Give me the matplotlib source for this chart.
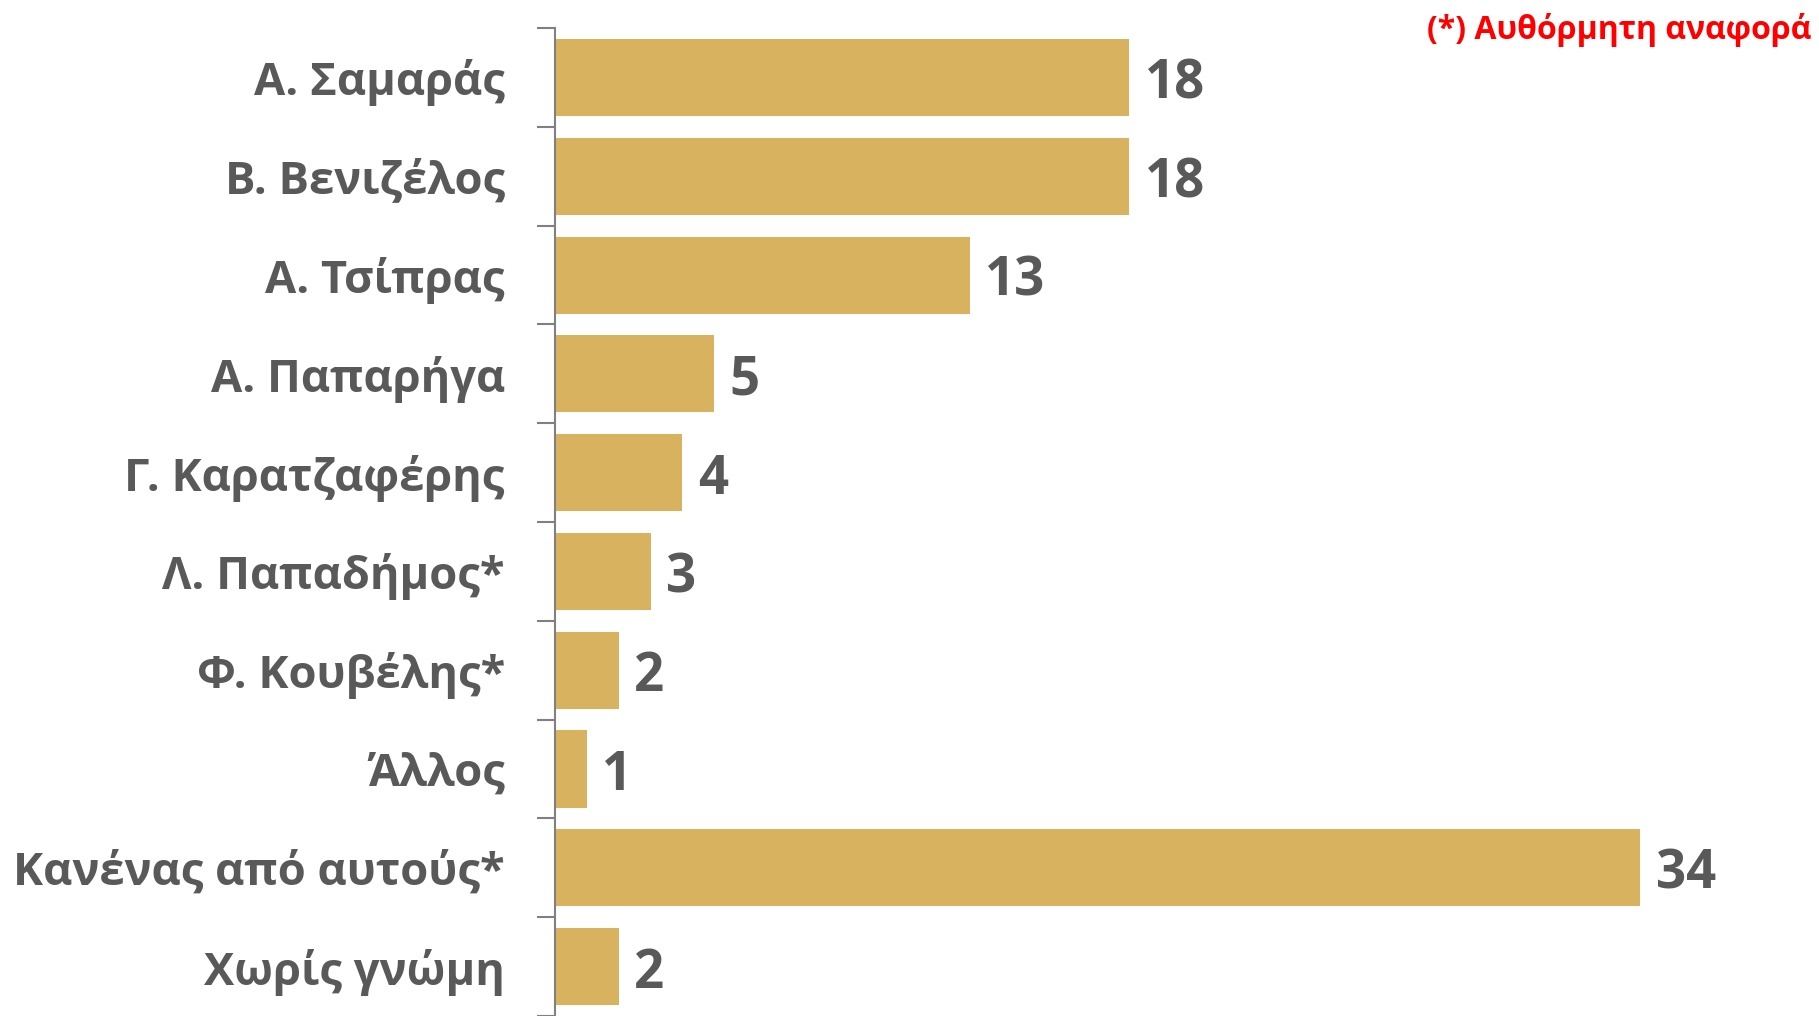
import numpy as np
import matplotlib.pyplot as plt

# valeurs
noms = ['Α. Σαμαράς', 'Β. Βενιζέλος', 'Α. Τσίπρας', 'Α. Παπαρήγα', 'Γ. Καρατζαφέρης',
        'Λ. Παπαδήμος*', 'Φ. Κουβέλης*', 'Άλλος', 'Κανένας από αυτούς*', 'Χωρίς γνώμη']
valeurs = [18, 18, 13, 5, 4, 3, 2, 1, 34, 2]
note = '(*) Αυθόρμητη αναφορά'

plt.rcParams['font.family'] = ['Open Sans', 'DejaVu Sans']
gris = '#595959'
couleur = '#D8B25E'

fig = plt.figure(figsize=(18.19, 10.16), dpi=100)
ax = fig.add_axes([0.305, 0.0, 0.695, 0.9724])

y = np.arange(len(noms))
ax.barh(y, valeurs, height=0.78, color=couleur)

for yi, v in zip(y, valeurs):
    ax.annotate(str(v), (v, yi), xytext=(11, -5), textcoords='offset points',
                ha='left', va='center', fontsize=38, fontweight='bold', color=gris)

ax.set_xlim(0, 39.6)
ax.set_ylim(len(noms) - 0.5, -0.5)

ax.set_yticks(y)
ax.set_yticklabels(noms, fontsize=32.6, fontweight='bold', color=gris)
ax.tick_params(axis='y', which='major', length=0, pad=36)
ax.set_yticks(np.arange(len(noms) + 1) - 0.5, minor=True)
ax.tick_params(axis='y', which='minor', length=13, width=1.5, color='#808080')
ax.set_xticks([])

for s in ['top', 'right', 'bottom']:
    ax.spines[s].set_visible(False)
ax.spines['left'].set_color('#808080')
ax.spines['left'].set_linewidth(1.5)

fig.text(0.996, 0.987, note, ha='right', va='top', fontsize=23, fontweight='bold', color='#FF0000')

fig.savefig('out.png', dpi=100)
